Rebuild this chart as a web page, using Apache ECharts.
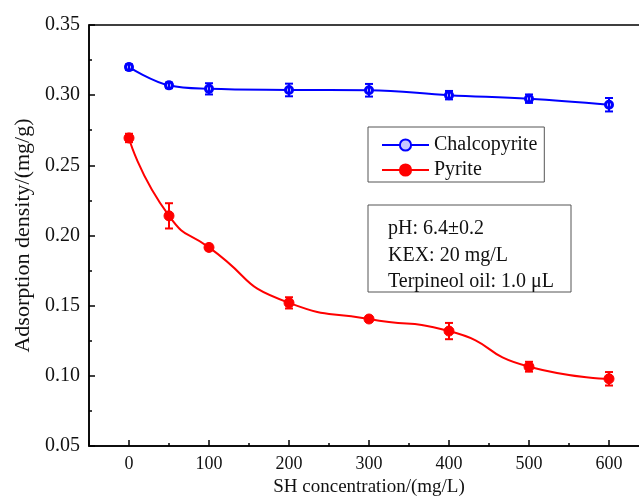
<!DOCTYPE html>
<html>
<head>
<meta charset="utf-8">
<script src="https://cdn.jsdelivr.net/npm/echarts@6/dist/echarts.min.js"></script>
<style>html,body{margin:0;padding:0;background:#fff;}#c{width:639px;height:503px;}</style>
</head>
<body>
<div id="c"></div>
<script>
var concentrations = [0, 50, 100, 200, 300, 400, 500, 600];
var chalcopyrite = [0.320, 0.307, 0.3045, 0.3037, 0.3035, 0.300, 0.2975, 0.2932];
var chalcopyriteErr = [0.002, 0.002, 0.004, 0.0045, 0.0045, 0.003, 0.003, 0.0048];
var pyrite = [0.2695, 0.214, 0.1915, 0.152, 0.1405, 0.1319, 0.1065, 0.0979];
var pyriteErr = [0.003, 0.009, 0.002, 0.004, 0.002, 0.0058, 0.0035, 0.0048];
var seriesNames = ['Chalcopyrite', 'Pyrite'];
var xTickLabels = ['0', '100', '200', '300', '400', '500', '600'];
var noteLines = ['pH: 6.4\u00B10.2', 'KEX: 20 mg/L', 'Terpineol oil: 1.0 \u03BCL'];

var FONT = '"Liberation Serif", "Times New Roman", serif';

function pairs(ys) { return concentrations.map(function (x, i) { return [x, ys[i]]; }); }
function errData(ys, es) { return concentrations.map(function (x, i) { return [x, ys[i] - es[i], ys[i] + es[i]]; }); }

function errRender(color) {
  return function (params, api) {
    var lo = api.coord([api.value(0), api.value(1)]);
    var hi = api.coord([api.value(0), api.value(2)]);
    var hw = 4;
    var st = { stroke: color, lineWidth: 2 };
    return { type: 'group', children: [
      { type: 'line', shape: { x1: lo[0], y1: lo[1], x2: hi[0], y2: hi[1] }, style: st },
      { type: 'line', shape: { x1: lo[0] - hw, y1: lo[1], x2: lo[0] + hw, y2: lo[1] }, style: st },
      { type: 'line', shape: { x1: hi[0] - hw, y1: hi[1], x2: hi[0] + hw, y2: hi[1] }, style: st }
    ] };
  };
}

var chart = echarts.init(document.getElementById('c'), null, { renderer: 'canvas' });
chart.setOption({
  animation: false,
  backgroundColor: '#fff',
  textStyle: { fontFamily: FONT },
  grid: { left: 89, top: 25, width: 560, height: 421, outerBoundsMode: 'none', containLabel: false,
    show: true, borderColor: '#000', borderWidth: 1.5, backgroundColor: 'transparent' },
  legend: {
    data: seriesNames,
    orient: 'vertical',
    left: 368, top: 127,
    padding: [8, 7, 2, 13],
    itemWidth: 47, itemHeight: 14, itemGap: 5,
    borderColor: '#555', borderWidth: 1,
    textStyle: { fontFamily: FONT, fontSize: 20, color: '#111', lineHeight: 20 }
  },
  graphic: [
    { type: 'rect', shape: { x: 368, y: 205, width: 203, height: 87 }, style: { fill: 'none', stroke: '#555', lineWidth: 1 }, z: 10 },
    { type: 'text', x: 388, y: 229, style: { text: noteLines[0], font: '20px ' + FONT, fill: '#111', textVerticalAlign: 'middle' }, z: 10 },
    { type: 'text', x: 388, y: 256, style: { text: noteLines[1], font: '20px ' + FONT, fill: '#111', textVerticalAlign: 'middle' }, z: 10 },
    { type: 'text', x: 388, y: 282, style: { text: noteLines[2], font: '20px ' + FONT, fill: '#111', textVerticalAlign: 'middle' }, z: 10 }
  ],
  xAxis: [{
    type: 'value', position: 'bottom', min: -50, max: 650, interval: 50,
    name: 'SH concentration/(mg/L)', nameLocation: 'middle', nameGap: 26,
    nameTextStyle: { fontFamily: FONT, fontSize: 19, color: '#111' },
    axisLine: { show: true, onZero: false, lineStyle: { color: '#000', width: 1.5 } },
    axisTick: { show: true, inside: true, length: 3, lineStyle: { color: '#000', width: 1.5 } },
    axisLabel: { fontFamily: FONT, fontSize: 18, color: '#111', margin: 9,
      formatter: function (v) { var s = String(Math.round(v)); return xTickLabels.indexOf(s) >= 0 ? s : ''; } },
    splitLine: { show: false }
  }, {
    type: 'value', position: 'bottom', min: -50, max: 650, minInterval: 100, maxInterval: 100,
    axisLine: { show: false, onZero: false },
    axisTick: { show: true, inside: true, length: 6, lineStyle: { color: '#000', width: 1.5 } },
    axisLabel: { show: false },
    splitLine: { show: false }
  }],
  yAxis: {
    type: 'value', min: 0.05, max: 0.35, interval: 0.05,
    name: 'Adsorption density/(mg/g)', nameLocation: 'middle', nameGap: 55,
    nameTextStyle: { fontFamily: FONT, fontSize: 22, color: '#111' },
    axisLine: { show: true, onZero: false, lineStyle: { color: '#000', width: 1.5 } },
    axisTick: { show: true, inside: true, length: 6, lineStyle: { color: '#000', width: 1.5 } },
    minorTick: { show: true, splitNumber: 2, length: 3, lineStyle: { color: '#000', width: 1.5 } },
    axisLabel: { fontFamily: FONT, fontSize: 20, color: '#111', margin: 9, formatter: function (v) { return v.toFixed(2); } },
    splitLine: { show: false }
  },
  series: [
    { name: seriesNames[0], type: 'line', data: pairs(chalcopyrite), smooth: 0.4,
      symbol: 'circle', symbolSize: 7,
      lineStyle: { color: '#0000ff', width: 2 },
      itemStyle: { color: '#c8c8ff', borderColor: '#0000ff', borderWidth: 3 }, z: 3 },
    { name: seriesNames[1], type: 'line', data: pairs(pyrite), smooth: 0.6,
      symbol: 'circle', symbolSize: 10,
      lineStyle: { color: '#ff0000', width: 2 },
      itemStyle: { color: '#ff0000', borderColor: '#ff0000', borderWidth: 1 }, z: 3 },
    { name: 'errC', type: 'custom', data: errData(chalcopyrite, chalcopyriteErr), renderItem: errRender('#0000ff'),
      encode: { x: 0, y: [1, 2] }, z: 4, silent: true },
    { name: 'errP', type: 'custom', data: errData(pyrite, pyriteErr), renderItem: errRender('#ff0000'),
      encode: { x: 0, y: [1, 2] }, z: 4, silent: true }
  ]
});
</script>
</body>
</html>
